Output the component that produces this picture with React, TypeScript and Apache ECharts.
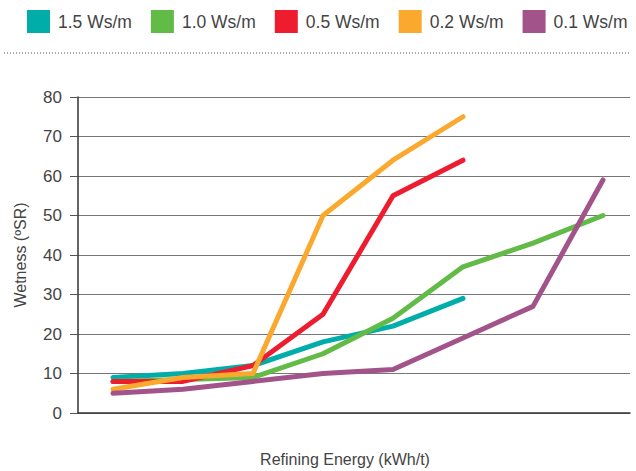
import React, { useEffect, useRef } from "react";
import * as echarts from "echarts";

const seriesNames = ["1.5 Ws/m", "1.0 Ws/m", "0.5 Ws/m", "0.2 Ws/m", "0.1 Ws/m"];
const seriesColors = ["#00ADA9", "#62BB46", "#ED1C2E", "#FBA92E", "#A2538A"];
const xSteps = [0.5, 1.5, 2.5, 3.5, 4.5, 5.5, 6.5, 7.5];
const teal15 = [9, 10, 12, 18, 22, 29];
const green10 = [8, 8.5, 9, 15, 24, 37, 43, 50];
const red05 = [8, 8, 12, 25, 55, 64];
const orange02 = [6, 9, 10, 50, 64, 75];
const purple01 = [5, 6, 8, 10, 11, 19, 27, 59];
const yTicks = [0, 10, 20, 30, 40, 50, 60, 70, 80];

const allValues = [teal15, green10, red05, orange02, purple01];

export default function App() {
  const ref = useRef<HTMLDivElement>(null);
  useEffect(() => {
    if (!ref.current) return;
    const chart = echarts.init(ref.current, null, { renderer: "svg" });
    const font = "'Liberation Sans', Arial, Helvetica, sans-serif";
    chart.setOption({
      animation: false,
      textStyle: { fontFamily: font },
      legend: {
        left: 27,
        top: 10,
        width: 609,
        padding: 0,
        itemWidth: 23,
        itemHeight: 23,
        itemGap: 19,
        icon: "rect",
        textStyle: { fontSize: 17.5, color: "#444", fontFamily: font, padding: [0, 0, 0, 3] },
        data: seriesNames,
      },
      graphic: [
        {
          type: "line",
          shape: { x1: 4, y1: 53, x2: 631, y2: 53 },
          style: { stroke: "#555", lineWidth: 1, lineDash: [1, 2] },
        },
      ],
      grid: { left: 78, top: 97, right: 6, bottom: 58, containLabel: false, outerBoundsMode: "none" },
      xAxis: {
        type: "value",
        min: 0,
        max: 7.886,
        name: "Refining Energy (kWh/t)",
        nameLocation: "middle",
        nameGap: 38,
        nameTextStyle: { fontSize: 16, color: "#444", fontFamily: font, padding: [0, 18, 0, 0] },
        axisLine: { show: true, onZero: false, lineStyle: { color: "#333", width: 1.5 } },
        axisTick: { show: false },
        axisLabel: { show: false },
        splitLine: { show: false },
      },
      yAxis: {
        type: "value",
        min: 0,
        max: 80,
        interval: 10,
        name: "Wetness (ºSR)",
        nameLocation: "middle",
        nameGap: 50,
        nameRotate: 90,
        nameTextStyle: { fontSize: 16, color: "#444", fontFamily: font },
        axisLine: { show: true, onZero: false, lineStyle: { color: "#333", width: 1.5 } },
        axisTick: { show: true, length: 8, lineStyle: { color: "#555" } },
        axisLabel: {
          margin: 16,
          fontSize: 17,
          color: "#444",
          fontFamily: font,
          formatter: (v: number) => (yTicks.includes(v) ? String(v) : ""),
        },
        splitLine: { show: true, lineStyle: { color: "#777", width: 1 } },
      },
      series: seriesNames.map((name, i) => ({
        name,
        type: "line",
        data: allValues[i].map((v, j) => [xSteps[j], v]),
        symbol: "none",
        lineStyle: { width: 5, color: seriesColors[i], cap: "round", join: "round" },
        itemStyle: { color: seriesColors[i] },
      })),
    });
    return () => chart.dispose();
  }, []);
  return <div ref={ref} style={{ width: 636, height: 471, position: "absolute", left: 0, top: 0 }} />;
}
